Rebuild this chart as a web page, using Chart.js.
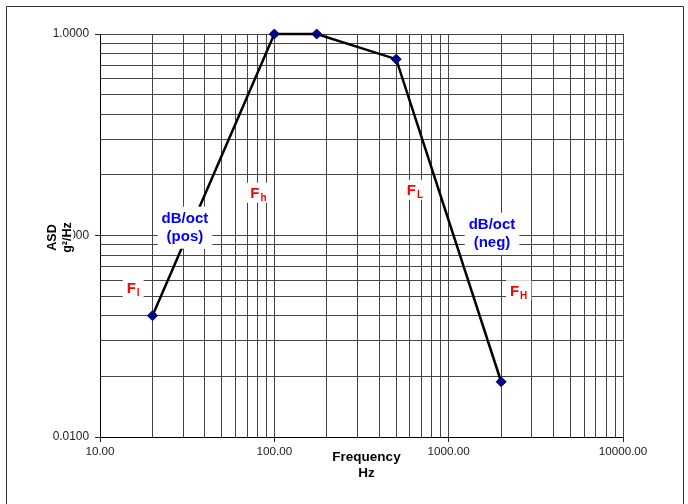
<!DOCTYPE html>
<html><head><meta charset="utf-8">
<script src="https://cdn.jsdelivr.net/npm/chart.js@4.4.0/dist/chart.umd.min.js"></script>
<style>html,body{margin:0;padding:0;background:#fff;}canvas{display:block;}</style>
</head><body>
<canvas id="c" width="688" height="504"></canvas>
<script>
const freq = [20, 100, 175, 500, 2000];
const asd = [0.04, 1.0, 1.0, 0.75, 0.0188];
const xDecades = [10, 100, 1000, 10000];
const xTickLabels = ['10.00', '100.00', '1000.00', '10000.00'];
const yDecades = [0.01, 0.1, 1];
const yTickLabels = ['0.0100', '0.1000', '1.0000'];
const minorMultipliers = [1, 2, 3, 4, 5, 6, 7, 8, 9];

const freqNotes = ['l', 'h', 'L', 'H'];
const freqNoteX = [15.5, 81, 641, 2520];
const freqNoteY = [0.0551, 0.163, 0.1686, 0.0535];
const slopeNotes = [['dB/oct', '(pos)'], ['dB/oct', '(neg)']];
const slopeNoteX = [30.7, 1773];
const slopeNoteY = [0.1093, 0.102];

const FONT = '"Liberation Sans", Arial, Helvetica, sans-serif';
Chart.defaults.font.family = FONT;

function buildTicks(decades) {
  const t = [];
  decades.forEach((d, i) => {
    if (i === decades.length - 1) { t.push({value: d, major: true}); return; }
    minorMultipliers.forEach(m => t.push({value: +(m * d).toPrecision(6), major: m === 1}));
  });
  return t;
}

function whiteBox(ctx, x, y, w, h) {
  ctx.fillStyle = '#fff';
  ctx.fillRect(x, y, w, h);
}

const deco = {
  id: 'deco',
  beforeDraw(chart) {
    const ctx = chart.ctx;
    ctx.save();
    ctx.fillStyle = '#fff';
    ctx.fillRect(0, 0, chart.width, chart.height);
    ctx.restore();
  },
  afterDatasetsDraw(chart) {
    const ctx = chart.ctx;
    const xs = chart.scales.x, ys = chart.scales.y;
    ctx.save();
    freqNotes.forEach((sub, i) => {
      const cx = xs.getPixelForValue(freqNoteX[i]);
      const cy = ys.getPixelForValue(freqNoteY[i]);
      ctx.font = 'bold 15px ' + FONT;
      const wF = ctx.measureText('F').width;
      ctx.font = 'bold 10px ' + FONT;
      const wS = ctx.measureText(sub).width;
      const w = wF + wS + 1;
      whiteBox(ctx, cx - w / 2 - 4, cy - 10, w + 8, 20);
      ctx.fillStyle = '#ff0000';
      ctx.textBaseline = 'alphabetic';
      ctx.textAlign = 'left';
      ctx.font = 'bold 15px ' + FONT;
      ctx.fillText('F', cx - w / 2, cy + 5.5);
      ctx.font = 'bold 10px ' + FONT;
      ctx.fillText(sub, cx - w / 2 + wF + 1, cy + 8.5);
    });
    slopeNotes.forEach((lines, i) => {
      const cx = xs.getPixelForValue(slopeNoteX[i]);
      const cy = ys.getPixelForValue(slopeNoteY[i]);
      ctx.font = 'bold 15px ' + FONT;
      const w = Math.max(...lines.map(l => ctx.measureText(l).width));
      const lh = 18;
      const h = lh * lines.length;
      whiteBox(ctx, cx - w / 2 - 4, cy - h / 2 - 3, w + 8, h + 6);
      ctx.fillStyle = '#0000ff';
      ctx.textAlign = 'center';
      ctx.textBaseline = 'middle';
      lines.forEach((l, k) => ctx.fillText(l, cx, cy - h / 2 + lh * k + lh / 2 + 0.5));
    });
    ctx.restore();
  },
  afterDraw(chart) {
    const ctx = chart.ctx;
    const a = chart.chartArea;
    ctx.save();
    ctx.fillStyle = '#000';
    ctx.font = 'bold 13.5px ' + FONT;
    ctx.textAlign = 'center';
    ctx.textBaseline = 'middle';
    const xc = (a.left + a.right) / 2 + 5;
    ctx.fillText('Frequency', xc, a.bottom + 20);
    ctx.fillText('Hz', xc, a.bottom + 36);
    const yc = (a.top + a.bottom) / 2 + 2;
    ctx.translate(0, yc);
    ctx.rotate(-Math.PI / 2);
    ctx.font = 'bold 12.5px ' + FONT;
    const t1 = 'ASD', t2 = 'g²/Hz';
    const w1 = ctx.measureText(t1).width, w2 = ctx.measureText(t2).width;
    const ww = Math.max(w1, w2);
    ctx.fillStyle = '#fff';
    ctx.fillRect(-ww / 2 - 2, 45, ww + 4, 28);
    ctx.fillStyle = '#000';
    ctx.fillText(t1, 0, 53);
    ctx.fillText(t2, 0, 68);
    ctx.restore();
    ctx.save();
    ctx.strokeStyle = '#333';
    ctx.lineWidth = 1;
    ctx.beginPath();
    ctx.moveTo(6.5, 520);
    ctx.lineTo(6.5, 6.5);
    ctx.lineTo(683.5, 6.5);
    ctx.lineTo(683.5, 520);
    ctx.stroke();
    ctx.restore();
  }
};

const gridColor = '#444';
const tickMarkColor = c => (c.tick && c.tick.major) ? '#222' : 'rgba(0,0,0,0)';

new Chart(document.getElementById('c'), {
  type: 'line',
  data: {
    datasets: [{
      data: freq.map((f, i) => ({x: f, y: asd[i]})),
      borderColor: '#000',
      borderWidth: 2.5,
      tension: 0,
      pointStyle: 'rectRot',
      pointRadius: 5,
      pointBackgroundColor: '#000080',
      pointBorderColor: '#000080',
      pointBorderWidth: 1,
      clip: false
    }]
  },
  options: {
    responsive: false,
    animation: false,
    events: [],
    layout: {padding: {left: 0, right: 65, top: 34, bottom: 0}},
    plugins: {legend: {display: false}, tooltip: {enabled: false}},
    scales: {
      x: {
        type: 'logarithmic',
        min: 10, max: 10000,
        afterBuildTicks: s => { s.ticks = buildTicks(xDecades); },
        afterFit: s => { s.height = 67; },
        ticks: {
          autoSkip: false, maxRotation: 0, minRotation: 0, padding: 3,
          color: '#222', font: {size: 11.7},
          callback: (v, i, t) => {
            const k = xDecades.indexOf(t[i].value);
            return (t[i].major && k >= 0) ? xTickLabels[k] : '';
          }
        },
        grid: {color: gridColor, lineWidth: 1, tickLength: 5, tickColor: tickMarkColor},
        border: {color: '#000', width: 1}
      },
      y: {
        type: 'logarithmic',
        min: 0.01, max: 1,
        afterBuildTicks: s => { s.ticks = buildTicks(yDecades); },
        afterFit: s => { s.width = 100; },
        ticks: {
          autoSkip: false, padding: 6,
          color: '#222', font: {size: 11.9},
          callback: (v, i, t) => {
            const k = yDecades.indexOf(t[i].value);
            return (t[i].major && k >= 0) ? yTickLabels[k] : '';
          }
        },
        grid: {color: gridColor, lineWidth: 1, tickLength: 5, tickColor: tickMarkColor},
        border: {color: '#000', width: 1}
      }
    }
  },
  plugins: [deco]
});
</script>
</body></html>
